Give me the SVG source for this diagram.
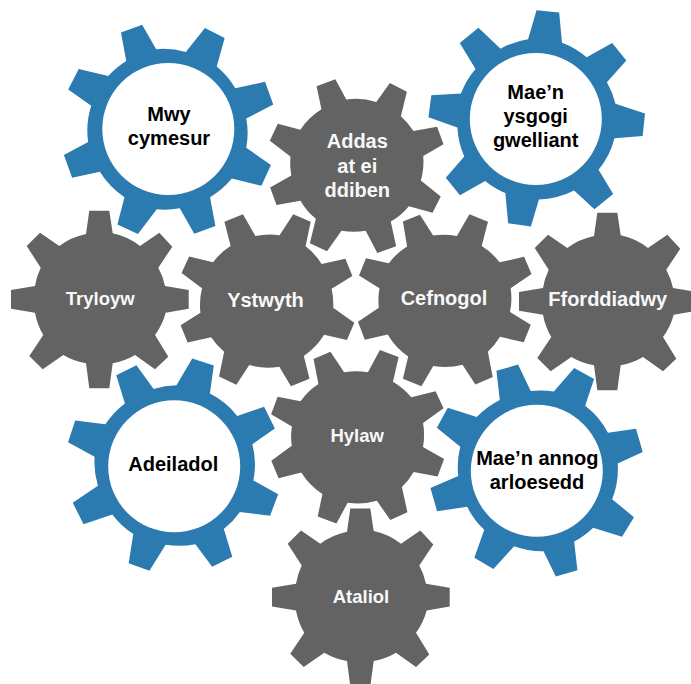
<svg xmlns="http://www.w3.org/2000/svg" width="691" height="684" viewBox="0 0 691 684">
<style>
.g{fill:#636363}.b{fill:#2b7ab0}.w{fill:#fff}
text{font-family:"Liberation Sans",Arial,sans-serif;font-size:20px;font-weight:700;text-anchor:middle}
.lt{fill:#f8f8f8}.dk{fill:#000}.sm{font-size:18.5px}
</style>
<defs>
<path id="gear" d="M-14,-65.5L-10.7,-88.8L9.3,-88.8L12.7,-66.2A67,67 0 0 1 40,-53.5L59.3,-66.8L72.3,-52.8L58.3,-31.8A67,67 0 0 1 65,-13.5L88.7,-9.5L88.7,9.2L65.7,13.2A67,67 0 0 1 55,35.5L68.3,57.2L55,69.8L35,55.5A67,67 0 0 1 12.7,63.8L9.3,88.8L-10.7,88.8L-14,63.8A67,67 0 0 1 -36.7,55.5L-57.3,69.8L-70.7,56.5L-56.7,35.5A67,67 0 0 1 -65,13.2L-89,9.2L-89,-9.5L-65,-13.5A67,67 0 0 1 -59.3,-31.8L-73.3,-53.5L-60,-66.8L-40.7,-53.5A67,67 0 0 1 -14,-65.5Z"/>
</defs>
<rect width="691" height="684" fill="#fff"/>
<g id="connectors"/>
<g id="mwy-cymesur"><use href="#gear" class="b" transform="translate(168.3 129) rotate(250) scale(1.205)"/><circle class="w" cx="168.3" cy="129" r="66"/><text class="dk" x="169" y="121">Mwy</text><text class="dk" x="169" y="145">cymesur</text></g>
<g id="ysgogi-gwelliant"><use href="#gear" class="b" transform="translate(535.8 119) rotate(141) scale(1.205)"/><circle class="w" cx="535.8" cy="119" r="66"/><text class="dk" x="535.7" y="99">Mae’n</text><text class="dk" x="535.7" y="123.3">ysgogi</text><text class="dk" x="535.7" y="147.3">gwelliant</text></g>
<g id="addas"><use href="#gear" class="g" transform="translate(357 166) rotate(340)"/><text class="lt" x="357.3" y="148">Addas</text><text class="lt" x="357.3" y="173">at ei</text><text class="lt" x="357.3" y="197">ddiben</text></g>
<g id="tryloyw"><use href="#gear" class="g" transform="translate(100 299.5)"/><text class="lt sm" x="100.3" y="305">Tryloyw</text></g>
<g id="ystwyth"><use href="#gear" class="g" transform="translate(266.3 300.5) rotate(158)"/><text class="lt" x="265.5" y="306.7">Ystwyth</text></g>
<g id="cefnogol"><use href="#gear" class="g" transform="translate(444.8 300) rotate(202)"/><text class="lt" x="444" y="305">Cefnogol</text></g>
<g id="fforddiadwy"><use href="#gear" class="g" transform="translate(608 301.5)"/><text class="lt" x="607.7" y="305.7">Fforddiadwy</text></g>
<g id="adeiladol"><use href="#gear" class="b" transform="translate(174.2 466.3) rotate(63.4) scale(1.205)"/><circle class="w" cx="174.2" cy="466.3" r="66"/><text class="dk" x="173.3" y="471">Adeiladol</text></g>
<g id="hylaw"><use href="#gear" class="g" transform="translate(357.5 436.5) rotate(200.5)"/><text class="lt sm" x="357.2" y="442.3">Hylaw</text></g>
<g id="annog-arloesedd"><use href="#gear" class="b" transform="translate(536.8 470.8) rotate(73.9) scale(1.205)"/><circle class="w" cx="536.8" cy="470.8" r="66"/><text class="dk" x="537.3" y="465">Mae’n annog</text><text class="dk" x="537" y="489">arloesedd</text></g>
<g id="ataliol"><use href="#gear" class="g" transform="translate(361 597.3)"/><text class="lt sm" x="361" y="602.7">Ataliol</text></g>
</svg>
